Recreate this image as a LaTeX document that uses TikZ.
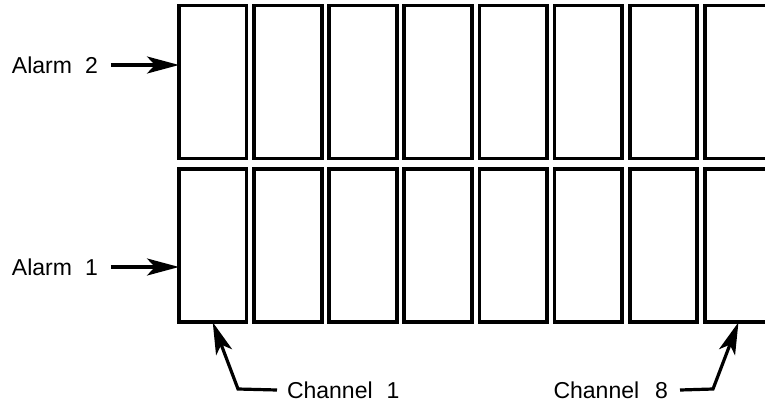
\documentclass[tikz,border=0pt]{standalone}
\usepackage{fontspec}
\setmainfont{Liberation Sans}
\usetikzlibrary{arrows.meta}
\begin{document}
\begin{tikzpicture}[x=1pt,y=-1pt,
  cell/.style={draw=black,line width=3.8pt,minimum width=67.5pt,minimum height=153pt,inner sep=0pt,outer sep=0pt},
  lbl/.style={inner sep=0pt,outer sep=0pt,font=\fontsize{23}{27}\selectfont},
  pointer/.style={draw=black,line width=3.2pt,-{Stealth[length=32pt,width=17pt,inset=8pt]}}]
\useasboundingbox (0,0) rectangle (765,404);
\clip (0,0) rectangle (765,404);
\foreach \i in {1,...,8}{
  \node[cell] (t\i) at ({212.75+75.1*(\i-1)},82) {};
  \node[cell] (b\i) at ({212.75+75.1*(\i-1)},245.75) {};
}
\node[lbl,anchor=west] (a2) at (12,65) {Alarm\hspace{13pt}2};
\node[lbl,anchor=west] (a1) at (12,267) {Alarm\hspace{13pt}1};
\node[lbl,anchor=west] (c1) at (287,390) {Channel\hspace{14pt}1};
\node[lbl,anchor=east] (c8) at (668,390) {Channel\hspace{16pt}8};
\coordinate (k1) at (238,389);
\coordinate (k8) at (713,389);
\draw[pointer] ([xshift=13pt]a2.east) -- (t1.west |- a2.east);
\draw[pointer] ([xshift=13pt]a1.east) -- (b1.west |- a1.east);
\draw[pointer] ([xshift=-10pt]c1.west) -- (k1) -- (b1.south);
\draw[pointer] ([xshift=12pt]c8.east) -- (k8) -- (b8.south);
\end{tikzpicture}
\end{document}
